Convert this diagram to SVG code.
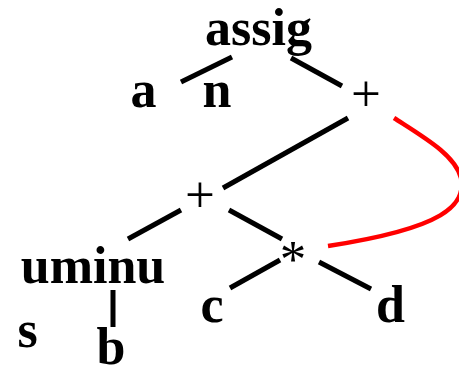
<svg xmlns="http://www.w3.org/2000/svg" width="459" height="375" viewBox="0 0 459 375">
<style>
.t{font-family:"Liberation Serif","Times New Roman",serif;font-weight:bold;font-size:52px;fill:#000;text-anchor:middle}
.op{font-family:"Liberation Serif","Times New Roman",serif;font-weight:normal;font-size:53px;fill:#000;text-anchor:middle}
.e{stroke:#000;stroke-width:5;fill:none}
.r{stroke:#ff0000;stroke-width:4.5;fill:none}
</style>
<rect width="459" height="375" fill="#fff"/>
<g id="connectors">
<line class="e" x1="181" y1="82" x2="232" y2="57"/>
<line class="e" x1="291" y1="58" x2="342" y2="86"/>
<line class="e" x1="223" y1="188" x2="348" y2="118"/>
<line class="e" x1="128" y1="239" x2="181" y2="210"/>
<line class="e" x1="229" y1="210" x2="282" y2="239"/>
<line class="e" x1="230" y1="288" x2="280" y2="260"/>
<line class="e" x1="319" y1="262" x2="371" y2="289"/>
<line class="e" x1="113" y1="290" x2="113" y2="327"/>
<path class="r" d="M394,118 C425,138 455,155 461,178 C466,205 445,228 328,246"/>
</g>
<g id="assign"><text class="t" x="258.5" y="45">assig</text><text class="t" x="217" y="107">n</text></g>
<g id="a"><text class="t" x="143.5" y="107">a</text></g>
<g id="plus1"><text class="op" x="366" y="111">+</text></g>
<g id="plus2"><text class="op" x="200" y="212">+</text></g>
<g id="times"><text class="op" x="293" y="277">*</text></g>
<g id="uminus"><text class="t" x="93" y="283">uminu</text><text class="t" x="27.5" y="347">s</text></g>
<g id="b"><text class="t" x="111" y="364">b</text></g>
<g id="c"><text class="t" x="212" y="322">c</text></g>
<g id="d"><text class="t" x="390.5" y="322">d</text></g>
</svg>
